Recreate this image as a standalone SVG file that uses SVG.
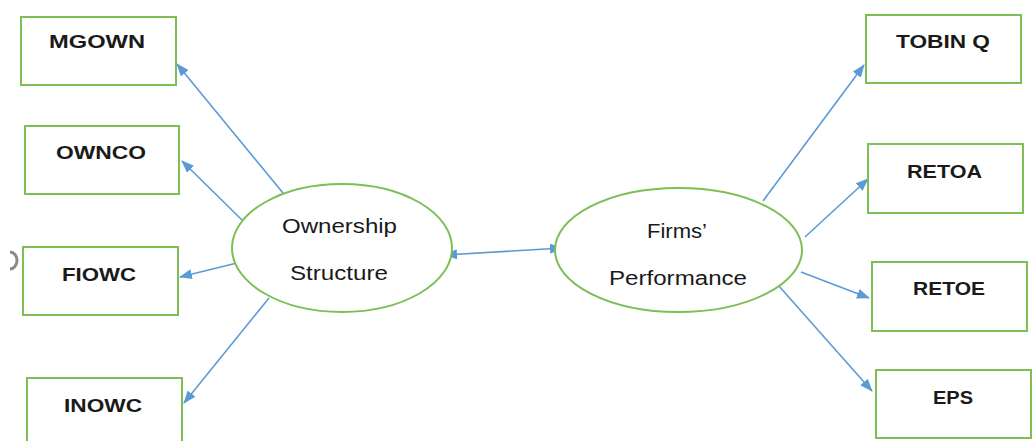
<svg xmlns="http://www.w3.org/2000/svg" width="1033" height="441" viewBox="0 0 1033 441">
<style>
.box{fill:#fff;stroke:#7DBE55;stroke-width:2}
.ell{fill:#fff;stroke:#7DBE55;stroke-width:2}
.lbl{font-family:"Liberation Sans",Arial,sans-serif;font-weight:bold;font-size:19px;fill:#1a1a1a}
.etx{font-family:"Liberation Sans",Arial,sans-serif;font-size:20px;fill:#1a1a1a}
.con{stroke:#5B9BD5;stroke-width:1.6;fill:none}
</style>
<defs>
<marker id="ah" markerUnits="userSpaceOnUse" markerWidth="13" markerHeight="10" refX="12" refY="5" orient="auto">
<path d="M0,0 L13,5 L0,10 z" fill="#5B9BD5"/>
</marker>
<marker id="as" markerUnits="userSpaceOnUse" markerWidth="13" markerHeight="10" refX="1" refY="5" orient="auto">
<path d="M13,0 L0,5 L13,10 z" fill="#5B9BD5"/>
</marker>
</defs>
<rect width="1033" height="441" fill="#fff"/>
<path d="M10,252 A7,8.5 0 0 1 10,269" fill="none" stroke="#8a8a8a" stroke-width="3"/>
<g id="connectors">
<line class="con" x1="283" y1="193" x2="177" y2="64" marker-end="url(#ah)"/>
<line class="con" x1="242" y1="220" x2="182" y2="161" marker-end="url(#ah)"/>
<line class="con" x1="237" y1="263" x2="180" y2="277" marker-end="url(#ah)"/>
<line class="con" x1="269" y1="298" x2="184" y2="403" marker-end="url(#ah)"/>
<line class="con" x1="445" y1="255" x2="562" y2="248" marker-start="url(#as)" marker-end="url(#ah)"/>
<line class="con" x1="763" y1="201" x2="864" y2="65" marker-end="url(#ah)"/>
<line class="con" x1="805" y1="237" x2="868" y2="179" marker-end="url(#ah)"/>
<line class="con" x1="801" y1="272" x2="869" y2="298" marker-end="url(#ah)"/>
<line class="con" x1="778" y1="285" x2="872" y2="391" marker-end="url(#ah)"/>
</g>
<g id="ownership"><ellipse class="ell" cx="342" cy="248" rx="110" ry="64"/>
<text class="etx" x="339.5" y="233" text-anchor="middle" textLength="115" lengthAdjust="spacingAndGlyphs">Ownership</text>
<text class="etx" x="339" y="280" text-anchor="middle" textLength="98" lengthAdjust="spacingAndGlyphs">Structure</text></g>
<g id="performance"><ellipse class="ell" cx="678.5" cy="250" rx="123.5" ry="62"/>
<text class="etx" x="677" y="238" text-anchor="middle" textLength="60" lengthAdjust="spacingAndGlyphs">Firms’</text>
<text class="etx" x="678" y="285" text-anchor="middle" textLength="138" lengthAdjust="spacingAndGlyphs">Performance</text></g>
<g id="mgown"><rect class="box" x="21" y="17" width="155" height="68"/><text class="lbl" x="97" y="48" text-anchor="middle" textLength="96" lengthAdjust="spacingAndGlyphs">MGOWN</text></g>
<g id="ownco"><rect class="box" x="25" y="126" width="154" height="68"/><text class="lbl" x="101" y="159" text-anchor="middle" textLength="90" lengthAdjust="spacingAndGlyphs">OWNCO</text></g>
<g id="fiowc"><rect class="box" x="23" y="247" width="155" height="68"/><text class="lbl" x="99" y="281" text-anchor="middle" textLength="74" lengthAdjust="spacingAndGlyphs">FIOWC</text></g>
<g id="inowc"><rect class="box" x="27" y="378" width="155" height="70"/><text class="lbl" x="103" y="412" text-anchor="middle" textLength="78" lengthAdjust="spacingAndGlyphs">INOWC</text></g>
<g id="tobinq"><rect class="box" x="866" y="15" width="155" height="68"/><text class="lbl" x="943" y="48" text-anchor="middle" textLength="94" lengthAdjust="spacingAndGlyphs">TOBIN Q</text></g>
<g id="retoa"><rect class="box" x="868" y="144" width="155" height="69"/><text class="lbl" x="944.5" y="178" text-anchor="middle" textLength="75" lengthAdjust="spacingAndGlyphs">RETOA</text></g>
<g id="retoe"><rect class="box" x="872" y="262" width="155" height="69"/><text class="lbl" x="949" y="295" text-anchor="middle" textLength="72" lengthAdjust="spacingAndGlyphs">RETOE</text></g>
<g id="eps"><rect class="box" x="876" y="370" width="155" height="68"/><text class="lbl" x="953" y="404" text-anchor="middle" textLength="40" lengthAdjust="spacingAndGlyphs">EPS</text></g>
</svg>
